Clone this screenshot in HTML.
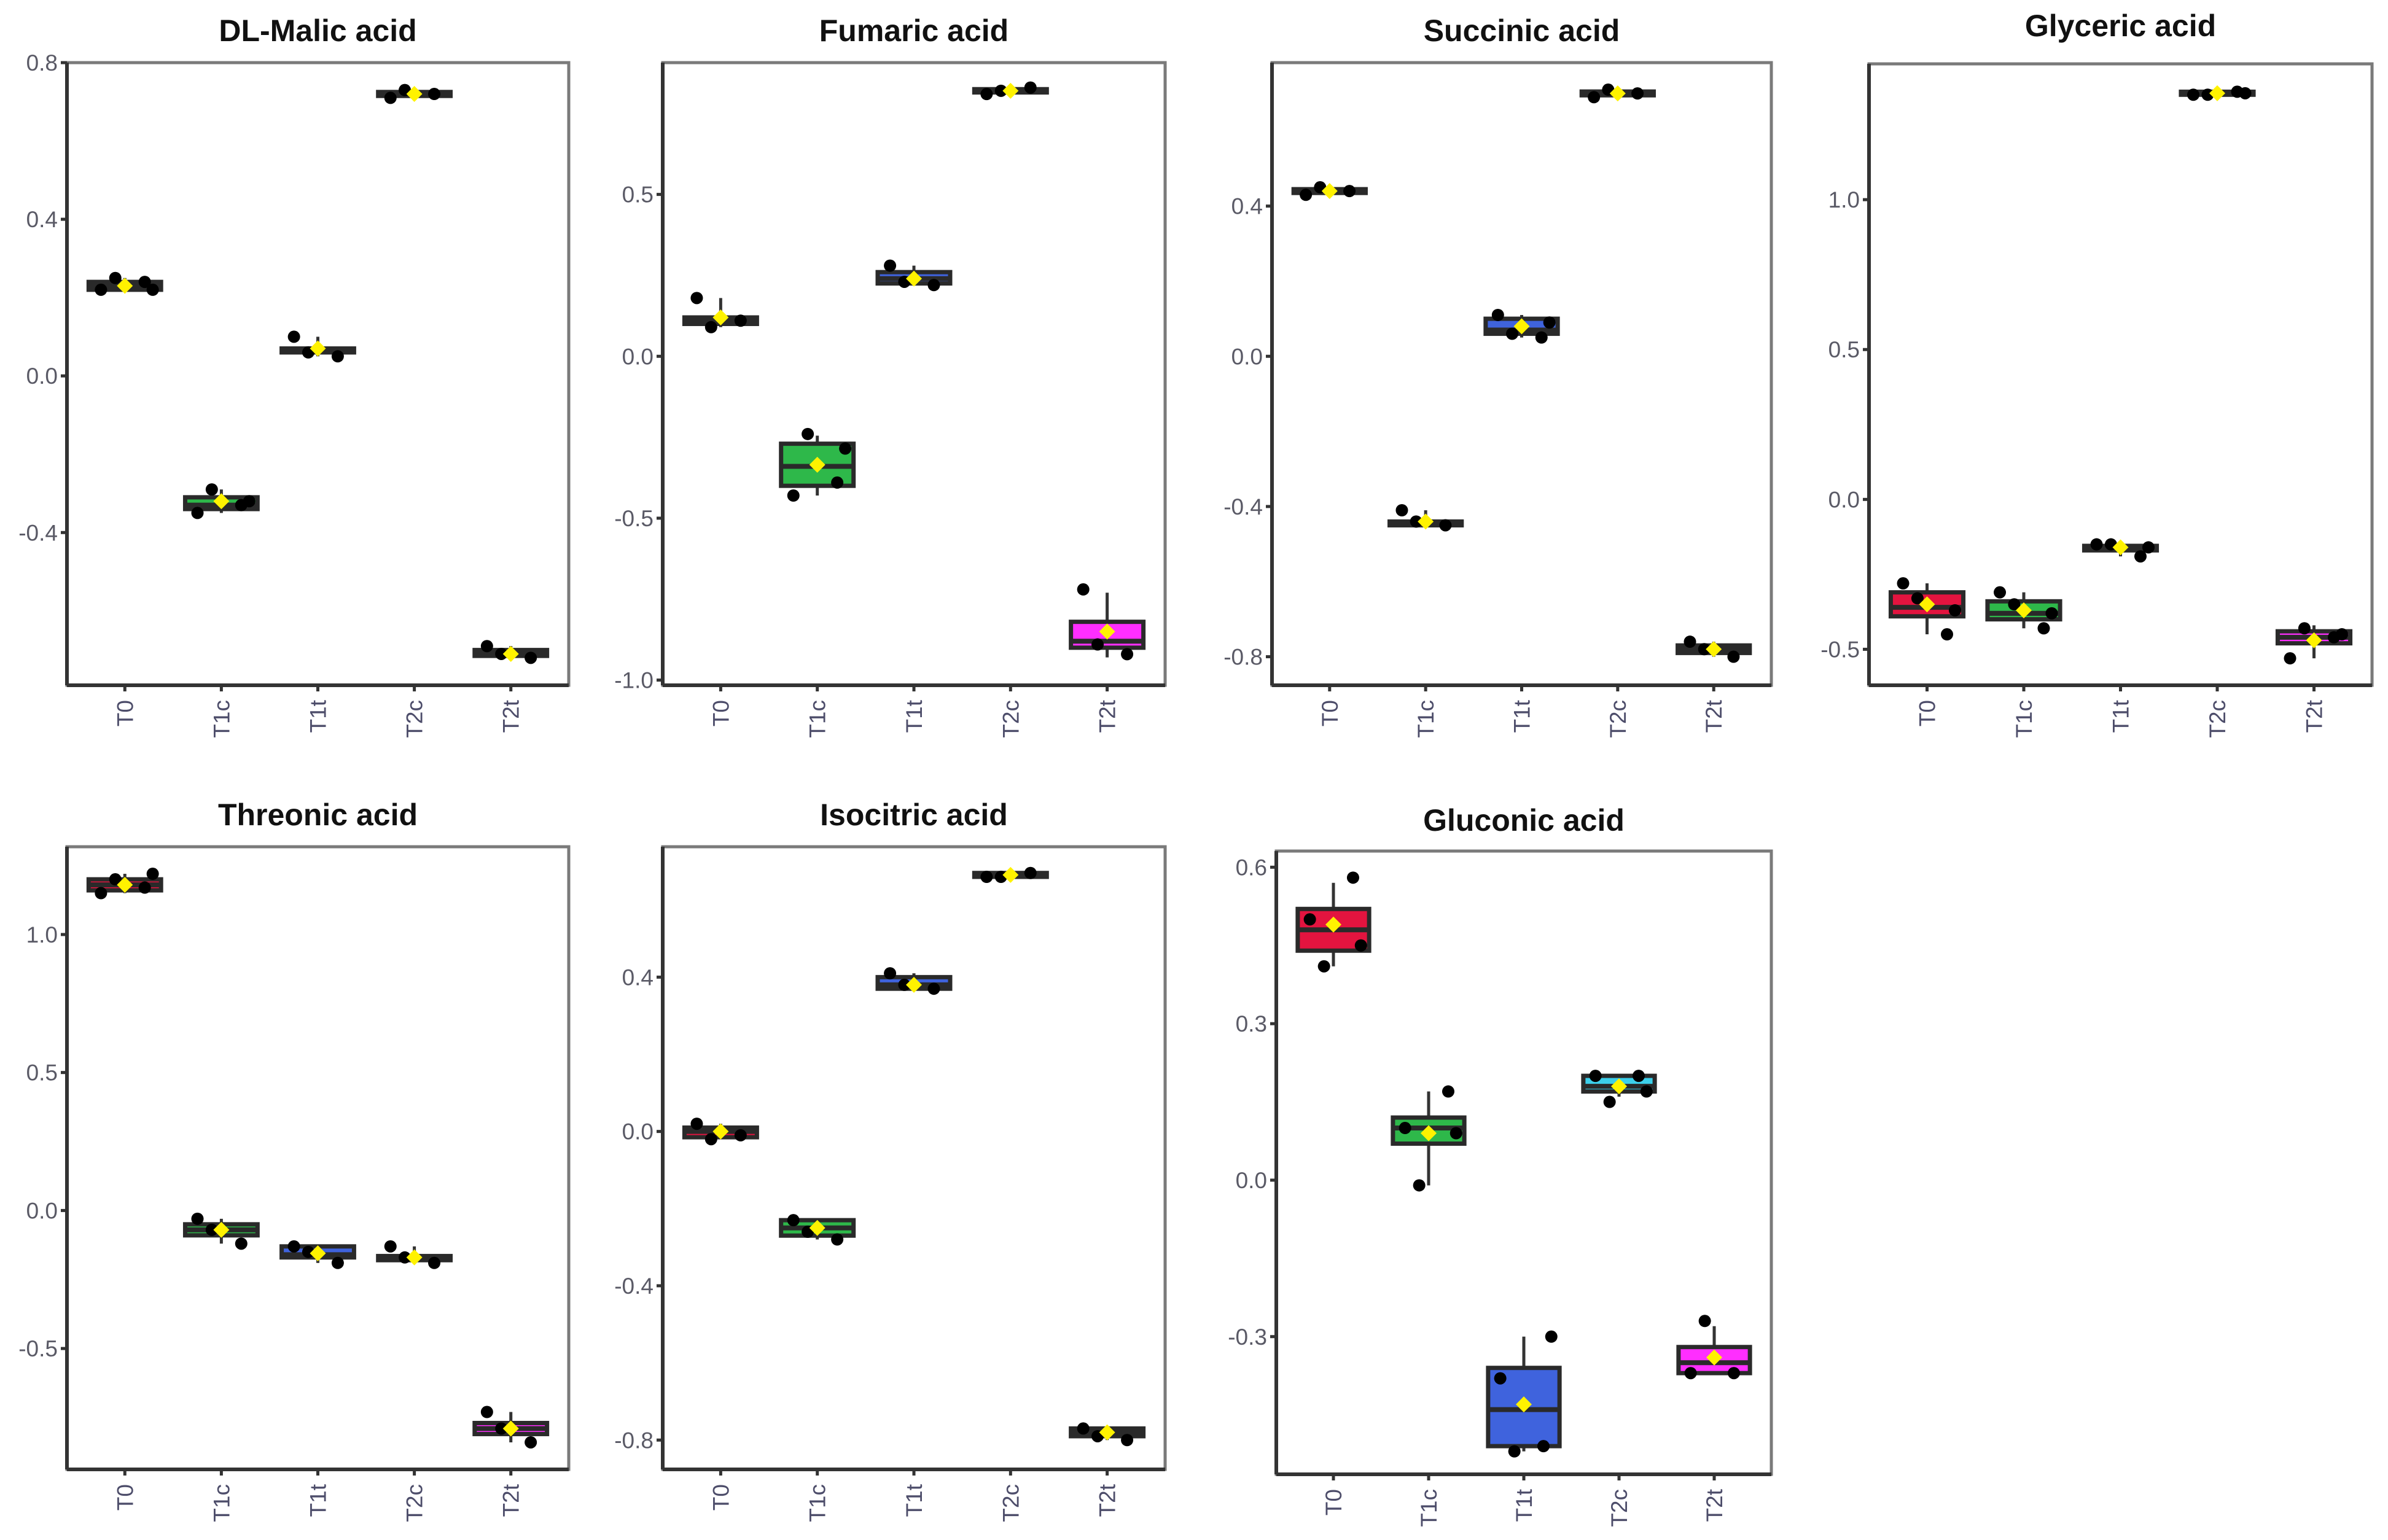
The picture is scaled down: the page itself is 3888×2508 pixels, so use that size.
<!DOCTYPE html>
<html><head><meta charset="utf-8">
<style>
html,body{margin:0;padding:0;background:#fff;}
svg{display:block;}
</style></head>
<body>
<svg id="fig" xmlns="http://www.w3.org/2000/svg" width="3888" height="2508" viewBox="0 0 3888 2508"></svg>
<script>
// ---- shared data ----
const groups = ["T0","T1c","T1t","T2c","T2t"];
const groupColors = ["#E3143F","#2EB84A","#3F63DD","#3CCFEA","#FF2EFF"];

// box stats per group: [lowWhisker, q1, median, q3, highWhisker]
const malicBoxes   = [[0.22,0.22,0.23,0.24,0.25],[-0.35,-0.34,-0.33,-0.31,-0.29],[0.05,0.06,0.065,0.07,0.10],[0.71,0.715,0.72,0.725,0.73],[-0.72,-0.715,-0.71,-0.70,-0.69]];
const malicPoints  = [[0.22,0.24,0.25,0.22],[-0.35,-0.33,-0.29,-0.32],[0.10,0.05,0.06],[0.71,0.72,0.73],[-0.69,-0.72,-0.71]];
const malicMeans   = [0.23,-0.32,0.07,0.72,-0.71];

const fumaricBoxes  = [[0.09,0.10,0.11,0.12,0.18],[-0.43,-0.40,-0.34,-0.27,-0.245],[0.22,0.225,0.24,0.26,0.28],[0.81,0.815,0.82,0.825,0.83],[-0.93,-0.90,-0.88,-0.82,-0.73]];
const fumaricPoints = [[0.18,0.11,0.09],[-0.43,-0.39,-0.24,-0.285],[0.28,0.22,0.23],[0.81,0.83,0.82],[-0.72,-0.92,-0.89]];
const fumaricMeans  = [0.12,-0.335,0.24,0.82,-0.85];

const succinicBoxes  = [[0.43,0.435,0.44,0.445,0.45],[-0.45,-0.45,-0.445,-0.44,-0.41],[0.05,0.06,0.07,0.10,0.11],[0.69,0.695,0.70,0.705,0.71],[-0.80,-0.79,-0.78,-0.77,-0.76]];
const succinicPoints = [[0.43,0.44,0.45],[-0.41,-0.45,-0.44],[0.11,0.05,0.06,0.09],[0.69,0.70,0.71],[-0.76,-0.80,-0.78]];
const succinicMeans  = [0.44,-0.44,0.08,0.70,-0.78];

const glycericBoxes  = [[-0.45,-0.39,-0.36,-0.31,-0.28],[-0.43,-0.40,-0.38,-0.34,-0.31],[-0.19,-0.17,-0.16,-0.155,-0.15],[1.345,1.35,1.355,1.36,1.365],[-0.53,-0.48,-0.46,-0.44,-0.42]];
const glycericPoints = [[-0.28,-0.45,-0.33,-0.37],[-0.31,-0.43,-0.35,-0.38],[-0.15,-0.19,-0.15,-0.16],[1.35,1.36,1.35,1.355],[-0.53,-0.46,-0.43,-0.45]];
const glycericMeans  = [-0.35,-0.37,-0.16,1.355,-0.47];

const threonicBoxes  = [[1.15,1.16,1.18,1.20,1.22],[-0.12,-0.09,-0.07,-0.05,-0.03],[-0.19,-0.17,-0.16,-0.13,-0.13],[-0.19,-0.18,-0.17,-0.165,-0.13],[-0.84,-0.81,-0.79,-0.77,-0.73]];
const threonicPoints = [[1.15,1.17,1.20,1.22],[-0.03,-0.12,-0.07],[-0.13,-0.19,-0.15],[-0.13,-0.19,-0.17],[-0.73,-0.84,-0.79]];
const threonicMeans  = [1.18,-0.07,-0.155,-0.17,-0.79];

const isocitricBoxes  = [[-0.02,-0.015,0.0,0.01,0.02],[-0.28,-0.27,-0.25,-0.23,-0.23],[0.37,0.37,0.38,0.40,0.41],[0.655,0.66,0.665,0.67,0.67],[-0.80,-0.79,-0.78,-0.77,-0.77]];
const isocitricPoints = [[0.02,-0.01,-0.02],[-0.23,-0.28,-0.26],[0.41,0.37,0.38],[0.66,0.67,0.66],[-0.77,-0.80,-0.79]];
const isocitricMeans  = [0.0,-0.25,0.38,0.665,-0.78];

const gluconicBoxes  = [[0.41,0.44,0.48,0.52,0.57],[-0.01,0.07,0.10,0.12,0.17],[-0.52,-0.51,-0.44,-0.36,-0.30],[0.16,0.17,0.18,0.20,0.20],[-0.37,-0.37,-0.35,-0.32,-0.28]];
const gluconicPoints = [[0.50,0.58,0.41,0.45],[0.10,0.17,-0.01,0.09],[-0.38,-0.51,-0.52,-0.30],[0.20,0.20,0.15,0.17],[-0.37,-0.37,-0.27]];
const gluconicMeans  = [0.49,0.09,-0.43,0.18,-0.34];

// panel titles & tick labels
const titles = ["DL-Malic acid","Fumaric acid","Succinic acid","Glyceric acid","Threonic acid","Isocitric acid","Gluconic acid"];
const ticksMalic = [0.8,0.4,0.0,-0.4];
const ticksFumaric = [0.5,0.0,-0.5,-1.0];
const ticksSuccinic = [0.4,0.0,-0.4,-0.8];
const ticksGlyceric = [1.0,0.5,0.0,-0.5];
const ticksThreonic = [1.0,0.5,0.0,-0.5];
const ticksIsocitric = [0.4,0.0,-0.4,-0.8];
const ticksGluconic = [0.6,0.3,0.0,-0.3];

// ---- layout (pixels / domains) ----
const panels = [
  {key:"dl-malic", box:[109,102,926,1116], dom:[0.8,-0.79], tb:67, b:malicBoxes, p:malicPoints, m:malicMeans, t:ticksMalic},
  {key:"fumaric", box:[1079,102,1897,1116], dom:[0.907,-1.016], tb:67, b:fumaricBoxes, p:fumaricPoints, m:fumaricMeans, t:ticksFumaric},
  {key:"succinic", box:[2071,102,2884,1116], dom:[0.782,-0.876], tb:67, b:succinicBoxes, p:succinicPoints, m:succinicMeans, t:ticksSuccinic},
  {key:"glyceric", box:[3043,104,3862,1116], dom:[1.453,-0.62], tb:59, b:glycericBoxes, p:glycericPoints, m:glycericMeans, t:ticksGlyceric},
  {key:"threonic", box:[109,1379,926,2393], dom:[1.318,-0.938], tb:1344, b:threonicBoxes, p:threonicPoints, m:threonicMeans, t:ticksThreonic},
  {key:"isocitric", box:[1079,1379,1897,2393], dom:[0.738,-0.876], tb:1344, b:isocitricBoxes, p:isocitricPoints, m:isocitricMeans, t:ticksIsocitric},
  {key:"gluconic", box:[2078,1386,2884,2401], dom:[0.631,-0.564], tb:1353, b:gluconicBoxes, p:gluconicPoints, m:gluconicMeans, t:ticksGluconic}
];
const jitter = [-0.30,0.25,-0.12,0.35,0.05];

const NS = "http://www.w3.org/2000/svg";
const svg = document.getElementById("fig");
function mk(tag, attrs, parent){
  const e = document.createElementNS(NS, tag);
  for (const k in attrs) e.setAttribute(k, attrs[k]);
  parent.appendChild(e);
  return e;
}
function fmt(v){ return v.toFixed(1); }

panels.forEach((P, pi) => {
  const [x0,y0,x1,y1] = P.box;
  const g = mk("g", {}, svg);
  
  
  const yS = v => y0 + (P.dom[0]-v)/(P.dom[0]-P.dom[1])*(y1-y0);
  const u = (x1-x0)/5.2;
  const xS = i => x0 + u*(0.6+i);
  const bw = u*0.75;

  const tt = mk("text", {x:(x0+x1)/2, y:P.tb, "text-anchor":"middle", "font-family":"Liberation Sans, Arial, sans-serif", "font-weight":"bold", "font-size":50, fill:"#111"}, g);
  tt.textContent = titles[pi];
  
  

  const fr = mk("rect", {x:x0, y:y0, width:x1-x0, height:y1-y0, fill:"none", stroke:"#7a7a7a", "stroke-width":5}, g);
  
  
  const ya = mk("line", {x1:x0, y1:y0, x2:x0, y2:y1, stroke:"#333", "stroke-width":6}, g);
  
  
  const xa = mk("line", {x1:x0, y1:y1, x2:x1, y2:y1, stroke:"#333", "stroke-width":6}, g);
  
  

  P.t.forEach(v => {
    const y = yS(v);
    mk("line", {x1:x0-10, y1:y, x2:x0, y2:y, stroke:"#333", "stroke-width":5}, g);
    const lb = mk("text", {x:x0-15, y:y+13, "text-anchor":"end", "font-family":"Liberation Sans, Arial, sans-serif", "font-size":37, fill:"#5a5a66"}, g);
    lb.textContent = fmt(v);
    
    
  });

  groups.forEach((gn, i) => {
    const x = xS(i);
    mk("line", {x1:x, y1:y1, x2:x, y2:y1+10, stroke:"#333", "stroke-width":5}, g);
    const lb = mk("text", {x:0, y:0, transform:`translate(${x+13},${y1+24}) rotate(-90)`, "text-anchor":"end", "font-family":"Liberation Sans, Arial, sans-serif", "font-size":37, fill:"#4d4d6a"}, g);
    lb.textContent = gn;
    
    
  });

  P.b.forEach((s, i) => {
    const x = xS(i);
    const wl = mk("line", {x1:x, y1:yS(s[0]), x2:x, y2:yS(s[4]), stroke:"#333", "stroke-width":5}, g);
    
    
    const top = yS(s[3]), bot = yS(s[1]);
    const r = mk("rect", {x:x-bw/2, y:top, width:bw, height:Math.max(bot-top,1), fill:groupColors[i], stroke:"#2a2a2a", "stroke-width":7}, g);
    
    
    const md = mk("line", {x1:x-bw/2, y1:yS(s[2]), x2:x+bw/2, y2:yS(s[2]), stroke:"#2a2a2a", "stroke-width":8}, g);
    
    
  });

  P.p.forEach((arr, i) => {
    arr.forEach((v, k) => {
      const c = mk("circle", {cx:xS(i)+jitter[k%jitter.length]*bw*1.1, cy:yS(v), r:10, fill:"#000"}, g);
      
      
    });
  });

  P.m.forEach((v, i) => {
    const x = xS(i), y = yS(v), d = 13;
    const dm = mk("polygon", {points:`${x},${y-d} ${x+d},${y} ${x},${y+d} ${x-d},${y}`, fill:"#FFF200"}, g);
    
    
  });
});
</script>
</body></html>
